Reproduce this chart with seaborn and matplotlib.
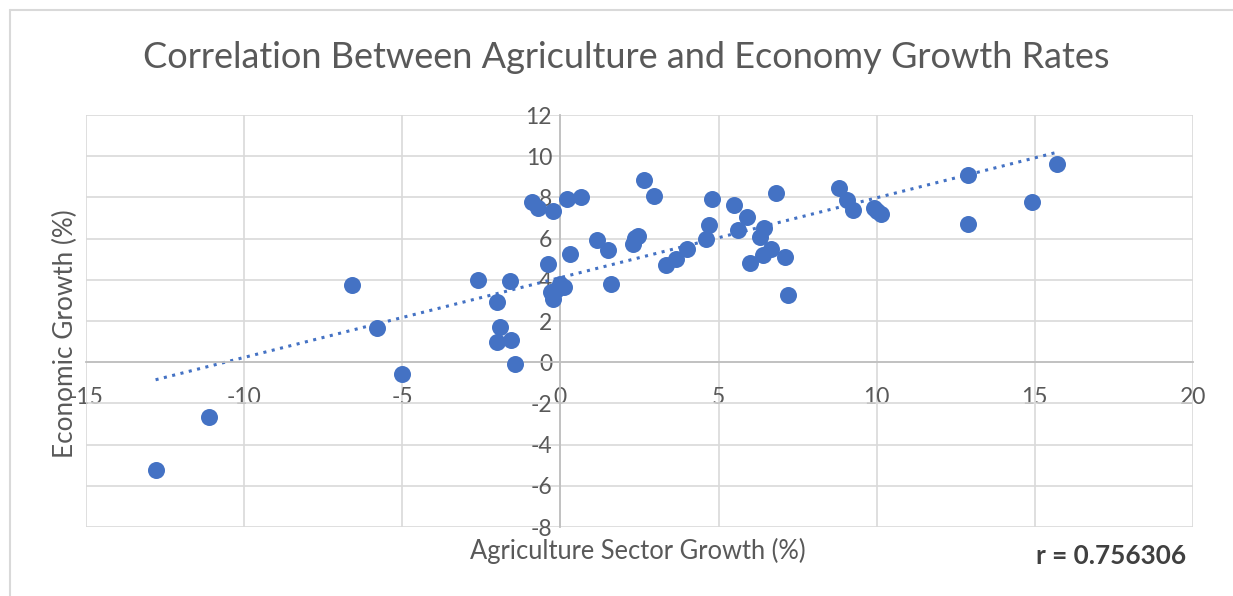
import matplotlib
matplotlib.use("Agg")
import matplotlib.pyplot as plt
import seaborn as sns
from matplotlib.lines import Line2D

# points
agri_growth = [-12.8, -11.1, -6.6, -5.8, -5.0, -2.6, -2.0, -1.9, -2.0, -1.55,
               -1.6, -1.45, -0.9, -0.7, -0.25, -0.4, -0.3, -0.25, -0.15, 0.0,
               0.1, 0.2, 0.3, 0.65, 1.15, 1.5, 1.6, 2.3, 2.35, 2.45,
               2.65, 2.95, 3.35, 3.65, 4.0, 4.6, 4.7, 4.8, 5.5, 5.6,
               5.9, 6.0, 6.8, 6.45, 6.3, 6.65, 6.4, 7.1, 7.2, 8.8,
               9.05, 9.25, 9.9, 10.0, 10.15, 12.9, 12.9, 14.9, 15.7]
econ_growth = [-5.25, -2.65, 3.75, 1.65, -0.55, 4.0, 2.9, 1.7, 1.0, 1.1,
               3.95, -0.1, 7.8, 7.5, 7.35, 4.75, 3.4, 3.05, 3.5, 3.8,
               3.65, 7.9, 5.25, 8.0, 5.95, 5.45, 3.8, 5.75, 6.05, 6.15,
               8.85, 8.05, 4.7, 5.0, 5.5, 6.0, 6.65, 7.9, 7.65, 6.4,
               7.05, 4.8, 8.2, 6.5, 6.1, 5.5, 5.2, 5.1, 3.25, 8.45,
               7.85, 7.4, 7.5, 7.35, 7.2, 9.1, 6.7, 7.8, 9.6]

x_ticks = [-15, -10, -5, 0, 5, 10, 15, 20]
y_ticks = [-8, -6, -4, -2, 0, 2, 4, 6, 8, 10, 12]
r_label = "r = 0.756306"

sns.set_theme(style="white")
plt.rcParams["font.family"] = ["Lato", "DejaVu Sans"]
plt.rcParams["axes.unicode_minus"] = False  # tiret simple comme excel

W, H = 1233, 596
fig = plt.figure(figsize=(W / 100, H / 100), dpi=100)
ax = fig.add_axes([86 / W, (H - 527) / H, (1193 - 86) / W, (527 - 115) / H])

blue = "#4472C4"
grey_txt = "#595959"

sns.regplot(x=agri_growth, y=econ_growth, scatter=False, ci=None, ax=ax,
            line_kws=dict(color=blue, lw=2.2, linestyle=(0, (1, 1.8)), zorder=2))
sns.scatterplot(x=agri_growth, y=econ_growth, ax=ax, s=150, color=blue,
                linewidth=0, zorder=3)

ax.set_xlim(-15, 20)
ax.set_ylim(-8, 12)
ax.set_xticks(x_ticks)
ax.set_yticks(y_ticks)
ax.grid(True, color="#d9d9d9", lw=1.2)
ax.set_axisbelow(True)

# axes qui se croisent a zero comme dans excel
for side in ["top", "right"]:
    ax.spines[side].set_visible(False)
for side in ["left", "bottom"]:
    ax.spines[side].set_position(("data", 0))
    ax.spines[side].set_color("#bfbfbf")
    ax.spines[side].set_linewidth(1.3)
ax.tick_params(axis="both", length=0, labelsize=16.5, colors=grey_txt)
ax.tick_params(axis="x", pad=18)
ax.tick_params(axis="y", pad=6)
ax.set_xlabel("")
ax.set_ylabel("")

fig.text(626 / W, 1 - 57 / H, "Correlation Between Agriculture and Economy Growth Rates",
         ha="center", va="center", fontsize=26, color=grey_txt)
fig.text(638 / W, 1 - 551 / H, "Agriculture Sector Growth (%)",
         ha="center", va="center", fontsize=18.4, color=grey_txt)
fig.text(65 / W, 1 - 334 / H, "Economic Growth (%)", rotation=90,
         ha="center", va="center", fontsize=18.8, color=grey_txt)
fig.text(1186 / W, 1 - 556 / H, r_label, ha="right", va="center",
         fontsize=18.8, color="#404040", fontweight="bold")

# cadre exterieur
fig.add_artist(Line2D([10 / W, 1], [1 - 10 / H, 1 - 10 / H], color="#d9d9d9", lw=1.5))
fig.add_artist(Line2D([10 / W, 10 / W], [0, 1 - 10 / H], color="#d9d9d9", lw=1.5))

fig.savefig("out.png", dpi=100)
